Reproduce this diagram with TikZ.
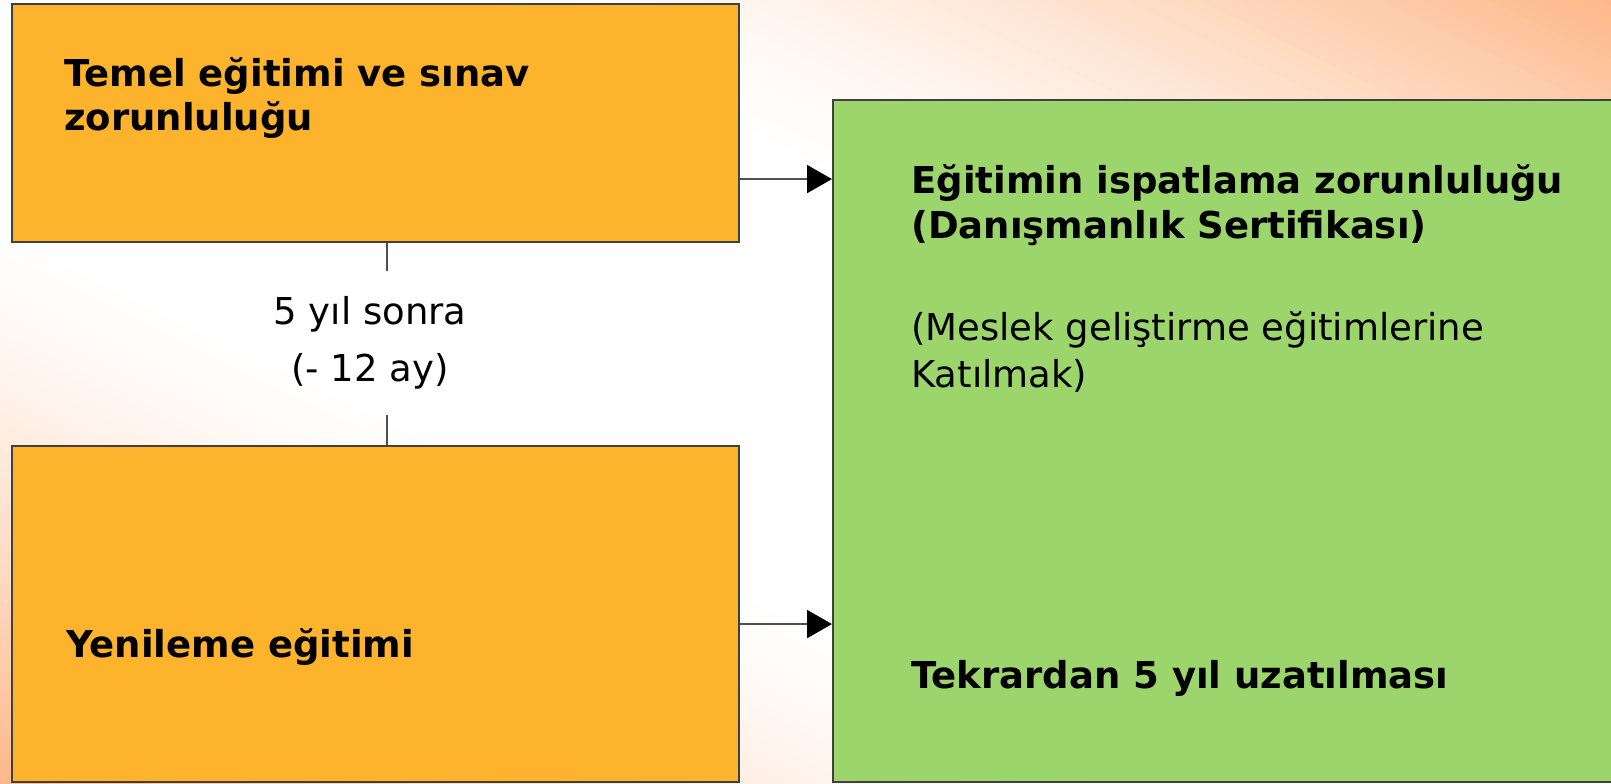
\documentclass[tikz,border=0pt]{standalone}
\usepackage{fontspec}
\setmainfont{DejaVu Sans}
\usetikzlibrary{arrows.meta,calc}
\definecolor{boxorange}{RGB}{253,179,43}
\definecolor{boxgreen}{RGB}{155,213,107}
\definecolor{edgegray}{RGB}{64,64,64}
\definecolor{linegray}{RGB}{80,80,80}
\definecolor{bgD}{RGB}{253,184,137}
\tikzset{
  obox/.style={draw=edgegray, line width=1.6pt, fill=boxorange, rectangle, inner sep=0pt, anchor=north west},
  gbox/.style={draw=edgegray, line width=1.6pt, fill=boxgreen, rectangle, inner sep=0pt, anchor=north west},
  bigtxt/.style={font=\fontsize{27.75pt}{33pt}\selectfont\bfseries, inner sep=0pt, anchor=base west},
  regtxt/.style={font=\fontsize{27.75pt}{33pt}\selectfont, inner sep=0pt, anchor=base west},
  arrowline/.style={draw=linegray, line width=1.6pt, -{Triangle[length=18.75pt, width=21pt, fill=black, color=black]}},
  joinline/.style={draw=linegray, line width=1.4pt}
}
\begin{document}
\begin{tikzpicture}[x=0.75pt, y=-0.75pt]
\useasboundingbox (0,0) rectangle (1611,783);
% background: white diagonal band, peach towards top-right and bottom-left corners
\begin{scope}
  \clip (0,0) rectangle (1611,783);
  \fill[white] (0,0) rectangle (1611,783);
  \begin{scope}[shift={(805.5,391.5)}, rotate=64]
    \foreach \s in {-720,-712,...,720} {
      \pgfmathsetmacro\p{min(100, 100*(max(0.0001,(abs(\s)-200)/504))^1.4)}
      \fill[bgD!\p!white] (\s-4,-1400) rectangle (\s+5,1400);
    }
  \end{scope}
\end{scope}

% boxes
\node[obox, minimum width=727*0.75pt, minimum height=238*0.75pt] (box1) at (11,3) {};
\node[obox, minimum width=727*0.75pt, minimum height=336*0.75pt] (box2) at (11,445) {};
\node[gbox, minimum width=800*0.75pt, minimum height=682*0.75pt] (green) at (832,99) {};

% texts in box1
\node[bigtxt] (t1a) at (64,86) {Temel eğitimi ve sınav};
\node[bigtxt] (t1b) at (64,130) {zorunluluğu};
% text in box2
\node[bigtxt] (t2) at (66,657) {Yenileme eğitimi};
% texts in green box
\node[bigtxt] (g1) at (911,193) {Eğitimin ispatlama zorunluluğu};
\node[bigtxt] (g2) at (911,238) {(Danışmanlık Sertifikası)};
\node[regtxt] (g3) at (911,340) {(Meslek geliştirme eğitimlerine};
\node[regtxt] (g4) at (911,387) {Katılmak)};
\node[bigtxt] (g5) at (911,688) {Tekrardan 5 yıl uzatılması};

% label between orange boxes
\node[font=\fontsize{27.75pt}{42.75pt}\selectfont, align=center, inner sep=0pt, minimum height=144*0.75pt] (lbl) at (370,343) {5 yıl sonra\\(- 12 ay)};

% connectors
\coordinate (c1) at ([xshift=8.6pt]box1.south);
\coordinate (c2) at ([xshift=8.6pt]box2.north);
\draw[joinline] (c1) -- (c1 |- lbl.north);
\draw[joinline] (c2 |- lbl.south) -- (c2);

\draw[arrowline] ([yshift=-42pt]box1.east) coordinate (a1) -- (a1 -| green.west);
\draw[arrowline] ([yshift=-7.5pt]box2.east) coordinate (a2) -- (a2 -| green.west);
\end{tikzpicture}
\end{document}
